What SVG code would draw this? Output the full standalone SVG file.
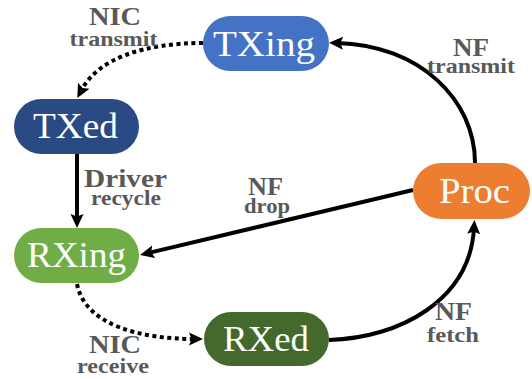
<svg xmlns="http://www.w3.org/2000/svg" width="532" height="379" viewBox="0 0 532 379">
<style>
.node text{font-family:'Liberation Serif','DejaVu Serif',serif;font-size:36px;fill:#ffffff;text-anchor:middle}
.lbl{font-family:'Liberation Serif','DejaVu Serif',serif;font-weight:bold;fill:#595959;text-anchor:middle}
.big{font-size:26px}
.small{font-size:21px}
.edge{fill:none;stroke:#000;stroke-width:4}
.dot{stroke-dasharray:4 3.5}
</style>
<defs>
<marker id="arr" markerUnits="userSpaceOnUse" markerWidth="15" markerHeight="14" refX="6" refY="7" orient="auto">
<path d="M0,0.5 L14,7 L0,13.5 L2.5,7 z" fill="#000"/>
</marker>
</defs>
<rect width="532" height="379" fill="#fff"/>
<g id="connectors">
<path class="edge dot" d="M203,43 C145,43 98,58 81,91" marker-end="url(#arr)"/>
<path class="edge" d="M77,154 L77,220" marker-end="url(#arr)"/>
<path class="edge dot" d="M77,284 C85,325 140,339 195,339" marker-end="url(#arr)"/>
<path class="edge" d="M329,340 C400,338 470,300 474,228" marker-end="url(#arr)"/>
<path class="edge" d="M475,163 C475,100 420,45 337,43" marker-end="url(#arr)"/>
<path class="edge" d="M413,190 L147.8,253.1" marker-end="url(#arr)"/>
</g>
<g id="labels">
<text class="lbl big" font-family="Liberation Serif, serif" x="115" y="25" textLength="52" lengthAdjust="spacingAndGlyphs">NIC</text>
<text class="lbl small" font-family="Liberation Serif, serif" x="113.5" y="46" textLength="88" lengthAdjust="spacingAndGlyphs">transmit</text>
<text class="lbl big" font-family="Liberation Serif, serif" x="84" y="187" style="text-anchor:start" textLength="83" lengthAdjust="spacingAndGlyphs">Driver</text>
<text class="lbl small" font-family="Liberation Serif, serif" x="91" y="205" style="text-anchor:start" textLength="70" lengthAdjust="spacingAndGlyphs">recycle</text>
<text class="lbl big" font-family="Liberation Serif, serif" x="265.5" y="195" textLength="35" lengthAdjust="spacingAndGlyphs">NF</text>
<text class="lbl small" font-family="Liberation Serif, serif" x="267" y="213" textLength="46" lengthAdjust="spacingAndGlyphs">drop</text>
<text class="lbl big" font-family="Liberation Serif, serif" x="115" y="353" textLength="52" lengthAdjust="spacingAndGlyphs">NIC</text>
<text class="lbl small" font-family="Liberation Serif, serif" x="113" y="373" textLength="72" lengthAdjust="spacingAndGlyphs">receive</text>
<text class="lbl big" font-family="Liberation Serif, serif" x="471" y="56" textLength="36" lengthAdjust="spacingAndGlyphs">NF</text>
<text class="lbl small" font-family="Liberation Serif, serif" x="471" y="73" textLength="88" lengthAdjust="spacingAndGlyphs">transmit</text>
<text class="lbl big" font-family="Liberation Serif, serif" x="453.5" y="320" textLength="37" lengthAdjust="spacingAndGlyphs">NF</text>
<text class="lbl small" font-family="Liberation Serif, serif" x="453" y="342" textLength="52" lengthAdjust="spacingAndGlyphs">fetch</text>
</g>
<g id="TXing" class="node">
<rect x="203" y="16" width="126" height="55" rx="27.5" fill="#4472C4"/>
<text font-family="Liberation Serif, serif" x="264" y="56" textLength="102" lengthAdjust="spacingAndGlyphs">TXing</text>
</g>
<g id="TXed" class="node">
<rect x="14" y="99" width="125" height="55" rx="27.5" fill="#294A82"/>
<text font-family="Liberation Serif, serif" x="75.5" y="138" textLength="85" lengthAdjust="spacingAndGlyphs">TXed</text>
</g>
<g id="RXing" class="node">
<rect x="14" y="228" width="125" height="55" rx="27.5" fill="#70AD47"/>
<text font-family="Liberation Serif, serif" x="76.5" y="267" textLength="99" lengthAdjust="spacingAndGlyphs">RXing</text>
</g>
<g id="RXed" class="node">
<rect x="204" y="312" width="125" height="54" rx="27" fill="#44692C"/>
<text font-family="Liberation Serif, serif" x="266" y="351" textLength="86" lengthAdjust="spacingAndGlyphs">RXed</text>
</g>
<g id="Proc" class="node">
<rect x="413" y="163" width="117" height="56" rx="28" fill="#ED7D31"/>
<text font-family="Liberation Serif, serif" x="474.5" y="203" textLength="71" lengthAdjust="spacingAndGlyphs">Proc</text>
</g>
</svg>
